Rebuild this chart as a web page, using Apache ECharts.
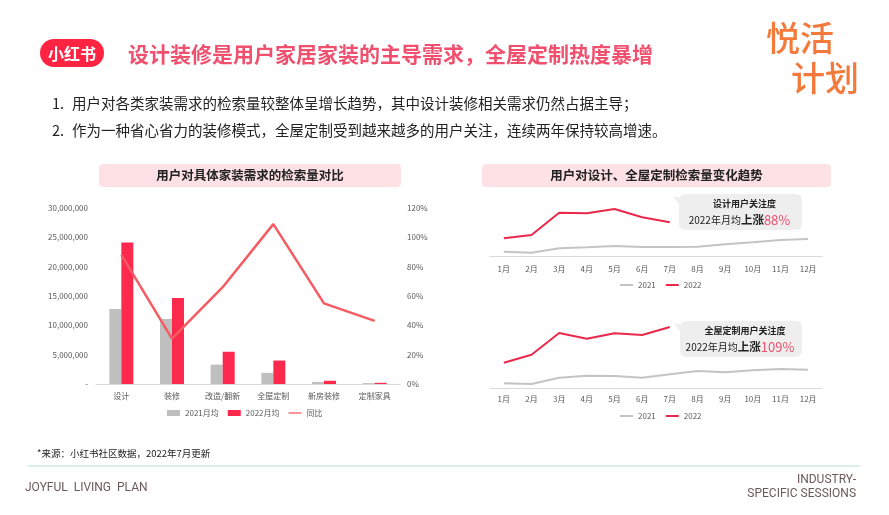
<!DOCTYPE html>
<html>
<head>
<meta charset="utf-8">
<script src="https://cdn.jsdelivr.net/npm/echarts@6/dist/echarts.min.js"></script>
<style>
html,body{margin:0;padding:0;background:#fff;}
#main{width:889px;height:515px;}
</style>
</head>
<body>
<div id="main"></div>
<script>
// ---- data ----
var categories = ['设计', '装修', '改造/翻新', '全屋定制', '新房装修', '定制家具'];
var avg2021 = [12800000, 11100000, 3300000, 1900000, 350000, 150000];
var avg2022 = [24100000, 14650000, 5500000, 4000000, 550000, 200000];
var yoy = [0.88, 0.31, 0.66, 1.09, 0.55, 0.43];

var months = ['1月','2月','3月','4月','5月','6月','7月','8月','9月','10月','11月','12月'];
// relative search index (axis hidden in source)
var design2021 = [5, 4, 8.4, 9.4, 10.7, 9.7, 9.7, 10, 12.4, 14.4, 16.7, 17.7];
var design2022 = [18.4, 21.7, 44, 43.4, 47.7, 39.4, 34.4];
var custom2021 = [5, 4.3, 10.6, 12.6, 12.3, 10.6, 14, 17.3, 16, 18, 19.3, 18.6];
var custom2022 = [25.6, 33.6, 55.3, 49.6, 55, 53.3, 61.3];

var leftTicks = [0, 5000000, 10000000, 15000000, 20000000, 25000000, 30000000];

var FONT = '"Noto Sans CJK SC", "Noto Sans", sans-serif';
var NARROW = '"Liberation Sans Narrow", "Roboto", sans-serif';
var chart = echarts.init(document.getElementById('main'));

var axisLabelStyle = {color: '#595959', fontSize: 8, fontFamily: FONT};

function callout(x, y, w, h, title, pct) {
  return {
    type: 'group',
    children: [
      {type: 'rect', shape: {x: x, y: y, width: w, height: h, r: 6}, style: {fill: '#eeeeee'}},
      {type: 'polygon', shape: {points: [[x + 2, y + 4], [x - 6, y + 2], [x + 2, y + 13]]}, style: {fill: '#eeeeee'}},
      {type: 'text', x: x + w / 2 + 4, y: y + 10, style: {text: title, fontSize: 9, fontWeight: 'bold', fill: '#222', align: 'center', verticalAlign: 'middle', fontFamily: FONT}},
      {type: 'text', x: x + w / 2 - 1, y: y + 26, style: {
        text: '{a|2022年月均}{b|上涨}{c|' + pct + '}',
        align: 'center', verticalAlign: 'middle', fontFamily: FONT,
        rich: {
          a: {fontSize: 10, fill: '#222', fontFamily: FONT},
          b: {fontSize: 11.5, fill: '#222', fontWeight: 'bold', fontFamily: FONT},
          c: {fontSize: 13, fill: '#f0506e', fontFamily: FONT}
        }
      }}
    ]
  };
}

var legendText = {fontSize: 8, color: '#595959', fontFamily: FONT};

var option = {
  backgroundColor: '#ffffff',
  animation: false,
  textStyle: {fontFamily: FONT},
  graphic: [
    // header
    {type: 'rect', shape: {x: 40, y: 39, width: 64, height: 28, r: 14}, style: {fill: '#ff2442'}},
    {type: 'text', x: 72, y: 53.5, style: {text: '小红书', fill: '#fff', fontSize: 16, fontWeight: 'bold', align: 'center', verticalAlign: 'middle', fontFamily: FONT}},
    {type: 'text', x: 128, y: 54, style: {text: '设计装修是用户家居家装的主导需求，全屋定制热度暴增', fill: '#f0506e', fontSize: 21, fontWeight: 'bold', verticalAlign: 'middle', fontFamily: FONT}},
    {type: 'text', x: 800, y: 38, style: {text: '悦活', fill: '#f47a3c', fontSize: 34, fontWeight: 500, align: 'center', verticalAlign: 'middle', fontFamily: FONT}},
    {type: 'text', x: 825, y: 78, style: {text: '计划', fill: '#f47a3c', fontSize: 34, fontWeight: 500, align: 'center', verticalAlign: 'middle', fontFamily: FONT}},
    {type: 'text', x: 52, y: 103, style: {text: '1.', fill: '#222', fontSize: 14.5, verticalAlign: 'middle', fontFamily: FONT}},
    {type: 'text', x: 72, y: 103, style: {text: '用户对各类家装需求的检索量较整体呈增长趋势，其中设计装修相关需求仍然占据主导；', fill: '#222', fontSize: 14.5, verticalAlign: 'middle', fontFamily: FONT}},
    {type: 'text', x: 52, y: 130, style: {text: '2.', fill: '#222', fontSize: 14.5, verticalAlign: 'middle', fontFamily: FONT}},
    {type: 'text', x: 72, y: 130, style: {text: '作为一种省心省力的装修模式，全屋定制受到越来越多的用户关注，连续两年保持较高增速。', fill: '#222', fontSize: 14.5, verticalAlign: 'middle', fontFamily: FONT}},
    // panel titles
    {type: 'rect', shape: {x: 99, y: 164, width: 302, height: 23, r: 4}, style: {fill: '#fde1e5'}},
    {type: 'text', x: 250, y: 175.5, style: {text: '用户对具体家装需求的检索量对比', fill: '#222', fontSize: 12.5, fontWeight: 'bold', align: 'center', verticalAlign: 'middle', fontFamily: FONT}},
    {type: 'rect', shape: {x: 482, y: 164, width: 349, height: 23, r: 4}, style: {fill: '#fde1e5'}},
    {type: 'text', x: 656.5, y: 175.5, style: {text: '用户对设计、全屋定制检索量变化趋势', fill: '#222', fontSize: 12.5, fontWeight: 'bold', align: 'center', verticalAlign: 'middle', fontFamily: FONT}},
    // callouts
    callout(679, 194, 123, 36, '设计用户关注度', '88%'),
    callout(680, 321, 122, 36, '全屋定制用户关注度', '109%'),
    // footer
    {type: 'text', x: 37, y: 453, style: {text: '*来源：小红书社区数据，2022年7月更新', fill: '#222', fontSize: 9.5, verticalAlign: 'middle', fontFamily: FONT}},
    {type: 'line', shape: {x1: 28, y1: 466, x2: 860, y2: 466}, style: {stroke: '#cfe8df', lineWidth: 1.5}},
    {type: 'text', x: 25, y: 488, style: {text: 'JOYFUL  LIVING  PLAN', fill: '#6b5a5a', fontSize: 12, verticalAlign: 'middle', fontFamily: NARROW}},
    {type: 'text', x: 856, y: 480, style: {text: 'INDUSTRY-', fill: '#6b5a5a', fontSize: 12, align: 'right', verticalAlign: 'middle', fontFamily: NARROW}},
    {type: 'text', x: 856, y: 494, style: {text: 'SPECIFIC SESSIONS', fill: '#6b5a5a', fontSize: 12, align: 'right', verticalAlign: 'middle', fontFamily: NARROW}}
  ],
  legend: [
    {
      data: [
        {name: '2021月均', icon: 'rect'},
        {name: '2022月均', icon: 'rect'},
        {name: '同比', icon: 'path://M0,0 L20,0 L20,2 L0,2 Z'}
      ],
      left: 167, top: 409, padding: 0, itemWidth: 13, itemHeight: 6, itemGap: 9,
      textStyle: legendText
    },
    {
      data: ['设计2021', '设计2022'],
      formatter: function (n) { return n.replace('设计', ''); },
      left: 620, top: 281, padding: 0, itemWidth: 13, itemHeight: 2, itemGap: 10, icon: 'rect',
      textStyle: legendText
    },
    {
      data: ['全屋定制2021', '全屋定制2022'],
      formatter: function (n) { return n.replace('全屋定制', ''); },
      left: 620, top: 412, padding: 0, itemWidth: 13, itemHeight: 2, itemGap: 10, icon: 'rect',
      textStyle: legendText
    }
  ],
  grid: [
    {left: 96, right: 489, top: 208, bottom: 131},
    {left: 490, right: 67, top: 196.7, bottom: 258.3},
    {left: 490, right: 67, top: 318.3, bottom: 126.7}
  ],
  xAxis: [
    {gridIndex: 0, type: 'category', data: categories,
      axisLine: {lineStyle: {color: '#d9d9d9'}}, axisTick: {show: false},
      axisLabel: Object.assign({margin: 8, interval: 0}, axisLabelStyle)},
    {gridIndex: 1, type: 'category', data: months,
      axisLine: {lineStyle: {color: '#d9d9d9'}}, axisTick: {show: false},
      axisLabel: Object.assign({margin: 8, interval: 0}, axisLabelStyle)},
    {gridIndex: 2, type: 'category', data: months,
      axisLine: {lineStyle: {color: '#d9d9d9'}}, axisTick: {show: false},
      axisLabel: Object.assign({margin: 7, interval: 0}, axisLabelStyle)}
  ],
  yAxis: [
    {gridIndex: 0, type: 'value', min: leftTicks[0], max: leftTicks[leftTicks.length - 1], interval: 5000000,
      splitLine: {show: false}, axisLine: {show: false}, axisTick: {show: false},
      axisLabel: Object.assign({margin: 8, formatter: function (v) { return v === 0 ? '-' : v.toLocaleString('en-US'); }}, axisLabelStyle)},
    {gridIndex: 0, type: 'value', min: 0, max: 1.2, interval: 0.2, position: 'right',
      splitLine: {show: false}, axisLine: {show: false}, axisTick: {show: false},
      axisLabel: Object.assign({margin: 7, formatter: function (v) { return Math.round(v * 100) + '%'; }}, axisLabelStyle)},
    {gridIndex: 1, type: 'value', min: 0, max: 60, show: false},
    {gridIndex: 2, type: 'value', min: 0, max: 70, show: false}
  ],
  series: [
    {name: '2021月均', type: 'bar', xAxisIndex: 0, yAxisIndex: 0, data: avg2021,
      barWidth: 12, barGap: '0%', itemStyle: {color: '#bfbfbf'}},
    {name: '2022月均', type: 'bar', xAxisIndex: 0, yAxisIndex: 0, data: avg2022,
      barWidth: 12, barGap: '0%', itemStyle: {color: '#fe2a4e'}},
    {name: '同比', type: 'line', xAxisIndex: 0, yAxisIndex: 1, data: yoy,
      symbol: 'none', lineStyle: {color: '#f45b62', width: 2.5}, itemStyle: {color: '#f45b62'}, z: 5},
    {name: '设计2021', type: 'line', xAxisIndex: 1, yAxisIndex: 2, data: design2021,
      symbol: 'none', lineStyle: {color: '#c4c4c4', width: 2}, itemStyle: {color: '#c4c4c4'}},
    {name: '设计2022', type: 'line', xAxisIndex: 1, yAxisIndex: 2, data: design2022,
      symbol: 'none', lineStyle: {color: '#e8294a', width: 2}, itemStyle: {color: '#e8294a'}},
    {name: '全屋定制2021', type: 'line', xAxisIndex: 2, yAxisIndex: 3, data: custom2021,
      symbol: 'none', lineStyle: {color: '#c4c4c4', width: 2}, itemStyle: {color: '#c4c4c4'}},
    {name: '全屋定制2022', type: 'line', xAxisIndex: 2, yAxisIndex: 3, data: custom2022,
      symbol: 'none', lineStyle: {color: '#e8294a', width: 2}, itemStyle: {color: '#e8294a'}}
  ]
};
chart.setOption(option);
</script>
</body>
</html>
